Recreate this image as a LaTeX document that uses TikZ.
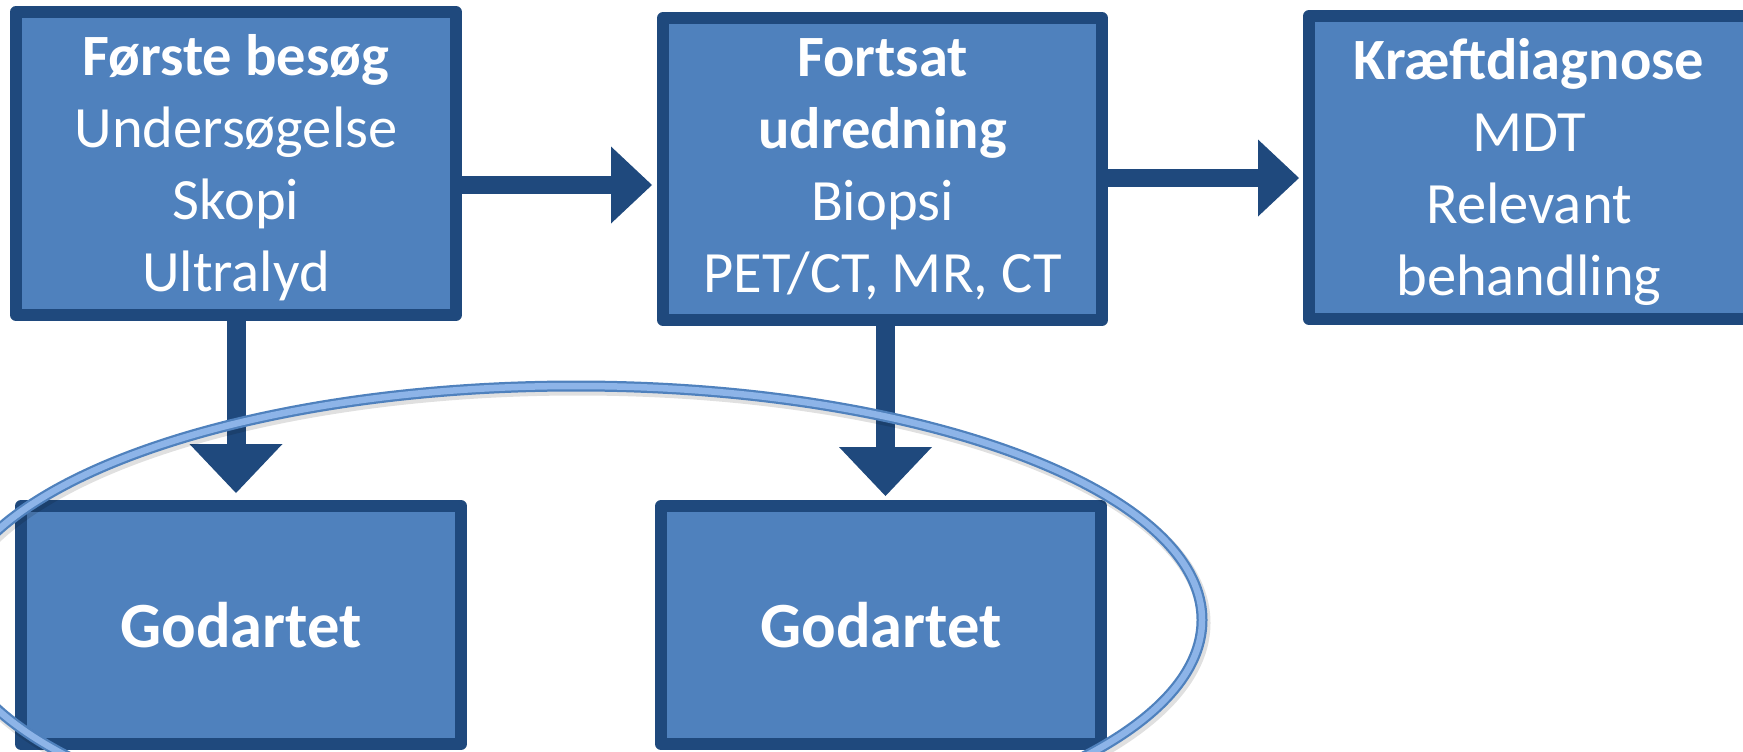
\documentclass[tikz,border=0pt]{standalone}
\usepackage{fontspec}
\setmainfont{Carlito}
\usetikzlibrary{arrows.meta}
\definecolor{boxfill}{HTML}{4F81BD}
\definecolor{boxline}{HTML}{1F497D}
\definecolor{ellout}{HTML}{4F81BD}
\definecolor{ellin}{HTML}{8DB4E8}
\newcommand\tallstrut{\rule{0pt}{50pt}}
\begin{document}
\begin{tikzpicture}[x=1pt,y=-1pt,
  box/.style={draw=boxline, fill=boxfill, line width=12pt, line join=round,
    inner sep=0pt, minimum width=440pt, text=white, align=center,
    font=\fontsize{58.5}{72}\selectfont},
  smallbox/.style={box, minimum height=238pt, font=\fontsize{64.5}{77}\selectfont\bfseries},
  arr/.style={draw=boxline, line width=18pt, -{Triangle[length=41pt,width=77pt,line width=0pt]}},
  darr/.style={draw=boxline, line width=19pt, -{Triangle[length=49pt,width=93pt,line width=0pt]}},
  ellshadow/.style={draw=black, opacity=0.12, line width=13pt},
  ellrim/.style={draw=ellout, line width=11pt},
  ellcore/.style={draw=ellin, line width=6.5pt}]
\clip (0,0) rectangle (1743,752);

\node[box, minimum height=303pt] (b1) at (236,163.5)
  {\tallstrut\textbf{Første besøg}\\Undersøgelse\\Skopi\\Ultralyd};
\node[box, minimum height=302pt, minimum width=439pt] (b2) at (882.5,169)
  {\textbf{Fortsat}\\\textbf{udredning}\\Biopsi\\PET/CT, MR, CT};
\node[box, minimum height=303pt] (b3) at (1529,167.5)
  {\tallstrut\textbf{Kræftdiagnose}\\MDT\\Relevant\\behandling};
\node[smallbox] (b4) at (241,625) {Godartet};
\node[smallbox] (b5) at (881,625) {Godartet};

\coordinate (r1) at (0,185);
\coordinate (r2) at (0,178);
\draw[arr] (b1.east |- r1) -- ([xshift=-5pt]b2.west |- r1);
\draw[arr] (b2.east |- r2) -- ([xshift=-4pt]b3.west |- r2);
\draw[darr] (b1.south) -- ([yshift=7pt]b1.south |- b4.north);
\draw[darr] ([xshift=3pt]b2.south) -- ([xshift=3pt,yshift=4pt]b2.south |- b5.north);

\draw[ellshadow] (578,623) ellipse [x radius=626pt, y radius=234pt];
\draw[ellrim] (576,620) ellipse [x radius=626pt, y radius=234pt];
\draw[ellcore] (576,620) ellipse [x radius=626pt, y radius=234pt];
\end{tikzpicture}
\end{document}
